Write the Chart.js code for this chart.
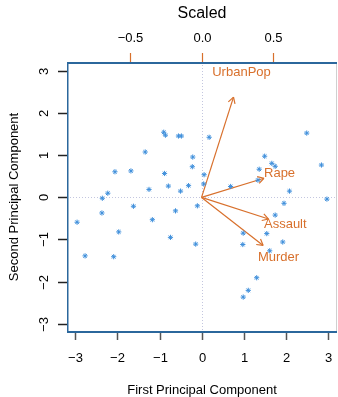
<!DOCTYPE html>
<html lang="en">
<head>
<meta charset="UTF-8">
<title>Principal Component Biplot</title>
<script src="https://cdn.jsdelivr.net/npm/chart.js"></script>
<style>
  body { margin: 0; background: #fff; }
</style>
</head>
<body>
<canvas id="biplot" width="338" height="397"></canvas>
<script>
// scores on the first two principal components, one per state
const pc1 = [0.98, 1.93, 1.75, -0.14, 2.50, 1.50, -1.34, 0.05, 2.98, 1.62,
             -0.90, -1.62, 1.37, -0.50, -2.23, -0.79, -0.74, 1.55, -2.37, 1.75,
             -0.48, 2.09, -1.68, 0.99, 0.69, -1.17, -1.25, 2.85, -2.36, 0.18,
             1.96, 1.67, 1.11, -2.96, -0.22, -0.31, 0.06, -0.88, -0.86, 1.31,
             -1.97, 0.99, 1.34, -0.55, -2.77, -0.10, -0.21, -2.09, -2.06, -0.62];
const pc2 = [-1.12, -1.06, 0.74, -1.11, 1.53, 0.98, 1.08, 0.32, -0.04, -1.27,
             1.55, -0.21, 0.67, 0.15, 0.10, 0.27, -0.95, -0.86, -0.37, -0.42,
             1.46, 0.15, 0.63, -2.37, 0.26, -0.53, 0.19, 0.77, -0.02, 1.43,
             -0.14, 0.81, -2.21, -0.59, 0.73, 0.28, 0.54, 0.57, 1.48, -1.91,
             -0.82, -0.85, 0.41, 1.46, -1.39, -0.20, 0.96, -1.41, 0.61, -0.32];

// variable loadings (the "Scaled" axis)
const varNames = ['Murder', 'Assault', 'UrbanPop', 'Rape'];
const load1 = [0.536, 0.583, 0.278, 0.543];
const load2 = [-0.418, -0.188, 0.873, 0.167];

const scoreTicks = [-3, -2, -1, 0, 1, 2, 3];
const scaledTicks = [-0.5, 0, 0.5];
const scaledTickLabels = ['\u22120.5', '0.0', '0.5'];

const scoreMin = -3.20, scoreMax = 3.22;
const loadMin = -0.937, loadMax = 0.943;

const orange = '#d8702c';
const boxBlue = '#2b679c';
const font = '"Liberation Sans", Arial, sans-serif';

const minus = v => (v < 0 ? '\u2212' + Math.abs(v) : String(v));

const arrowSets = varNames.map((name, i) => ({
  label: name,
  data: [{x: 0, y: 0}, {x: 0.8 * load1[i], y: 0.8 * load2[i]}],
  xAxisID: 'x2',
  yAxisID: 'y2',
  showLine: true,
  borderColor: orange,
  borderWidth: 1.2,
  pointRadius: 0
}));

const decor = {
  id: 'decor',
  beforeDatasetsDraw(chart) {
    const {ctx, chartArea: a, scales: {x, y}} = chart;
    ctx.save();
    ctx.strokeStyle = '#c3c6df';
    ctx.lineWidth = 1;
    ctx.setLineDash([1, 2]);
    const x0 = Math.round(x.getPixelForValue(0)) + 0.5;
    const y0 = Math.round(y.getPixelForValue(0)) + 0.5;
    ctx.beginPath();
    ctx.moveTo(x0, a.top); ctx.lineTo(x0, a.bottom);
    ctx.moveTo(a.left, y0); ctx.lineTo(a.right, y0);
    ctx.stroke();
    ctx.restore();
  },
  afterDatasetsDraw(chart) {
    const {ctx, scales: {x2, y2}} = chart;
    ctx.save();
    ctx.strokeStyle = orange;
    ctx.fillStyle = orange;
    ctx.lineWidth = 1.2;
    const ox = x2.getPixelForValue(0), oy = y2.getPixelForValue(0);
    varNames.forEach((name, i) => {
      const tx = x2.getPixelForValue(0.8 * load1[i]);
      const ty = y2.getPixelForValue(0.8 * load2[i]);
      const ang = Math.atan2(ty - oy, tx - ox);
      ctx.beginPath();
      [-Math.PI / 6, Math.PI / 6].forEach(d => {
        ctx.moveTo(tx, ty);
        ctx.lineTo(tx - 7 * Math.cos(ang + d), ty - 7 * Math.sin(ang + d));
      });
      ctx.stroke();
      ctx.font = '13px ' + font;
      ctx.textAlign = 'center';
      ctx.textBaseline = 'middle';
      ctx.fillText(name, x2.getPixelForValue(load1[i]), y2.getPixelForValue(load2[i]));
    });
    ctx.restore();
  },
  afterDraw(chart) {
    const {ctx, chartArea: a, scales: {x, y, x2}} = chart;
    ctx.save();
    // plot box
    ctx.strokeStyle = '#d0d0d0';
    ctx.lineWidth = 1;
    ctx.beginPath();
    ctx.moveTo(a.right - 0.5, a.top); ctx.lineTo(a.right - 0.5, a.bottom);
    ctx.stroke();
    ctx.strokeStyle = boxBlue;
    ctx.lineWidth = 2;
    ctx.beginPath();
    ctx.moveTo(a.left, a.top + 1); ctx.lineTo(a.right, a.top + 1);
    ctx.moveTo(a.left, a.bottom); ctx.lineTo(a.right, a.bottom);
    ctx.stroke();
    ctx.lineWidth = 1.5;
    ctx.beginPath();
    ctx.moveTo(a.left + 0.75, a.top); ctx.lineTo(a.left + 0.75, a.bottom);
    ctx.stroke();

    ctx.font = '13px ' + font;
    ctx.fillStyle = '#000';
    ctx.textAlign = 'center';
    ctx.textBaseline = 'middle';

    // bottom axis
    ctx.strokeStyle = '#555';
    ctx.lineWidth = 1.5;
    scoreTicks.forEach(v => {
      const px = Math.round(x.getPixelForValue(v)) + 0.5;
      ctx.beginPath();
      ctx.moveTo(px, a.bottom + 1); ctx.lineTo(px, a.bottom + 8);
      ctx.stroke();
      ctx.fillText(minus(v), px, 358);
    });
    ctx.fillText('First Principal Component', (a.left + a.right) / 2, 390);

    // left axis
    ctx.strokeStyle = '#222';
    scoreTicks.forEach(v => {
      const py = Math.round(y.getPixelForValue(v)) + 0.5;
      ctx.beginPath();
      ctx.moveTo(58, py); ctx.lineTo(a.left, py);
      ctx.stroke();
      ctx.save();
      ctx.translate(44, py);
      ctx.rotate(-Math.PI / 2);
      ctx.fillText(minus(v), 0, 0);
      ctx.restore();
    });
    ctx.save();
    ctx.translate(14, (a.top + a.bottom) / 2);
    ctx.rotate(-Math.PI / 2);
    ctx.fillText('Second Principal Component', 0, 0);
    ctx.restore();

    // top "Scaled" axis
    ctx.strokeStyle = orange;
    ctx.lineWidth = 1.2;
    scaledTicks.forEach((v, i) => {
      const px = Math.round(x2.getPixelForValue(v)) + 0.5;
      ctx.beginPath();
      ctx.moveTo(px, 53); ctx.lineTo(px, a.top);
      ctx.stroke();
      ctx.fillText(scaledTickLabels[i], px, 38);
    });
    ctx.font = '16px ' + font;
    ctx.fillText('Scaled', (a.left + a.right) / 2, 14);
    ctx.restore();
  }
};

new Chart(document.getElementById('biplot'), {
  type: 'scatter',
  data: {
    datasets: [{
      label: 'States',
      data: pc1.map((v, i) => ({x: v, y: pc2[i]})),
      pointStyle: 'star',
      pointRadius: 2.6,
      borderColor: '#3f8fdb',
      backgroundColor: '#3f8fdb',
      borderWidth: 1
    }, ...arrowSets]
  },
  options: {
    responsive: false,
    animation: false,
    layout: {autoPadding: false, padding: {left: 67, top: 62, right: 1, bottom: 65}},
    plugins: {legend: {display: false}, tooltip: {enabled: false}},
    scales: {
      x: {type: 'linear', min: scoreMin, max: scoreMax, display: false},
      y: {type: 'linear', min: scoreMin, max: scoreMax, display: false},
      x2: {type: 'linear', position: 'top', min: loadMin, max: loadMax, display: false},
      y2: {type: 'linear', position: 'right', min: loadMin, max: loadMax, display: false}
    }
  },
  plugins: [decor]
});
</script>
</body>
</html>
